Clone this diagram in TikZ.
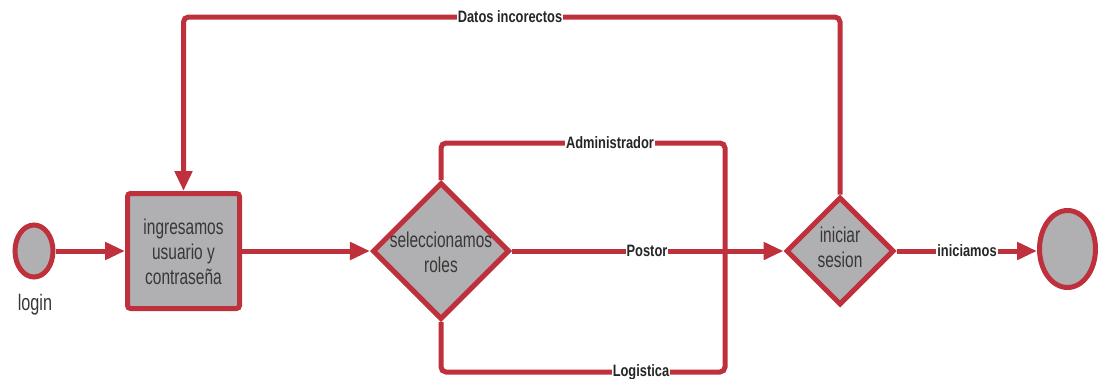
\documentclass[tikz,border=0pt]{standalone}
\usepackage{fontspec}
\setmainfont{Liberation Sans}[FakeStretch=0.72]
\newfontfamily\labfont{Liberation Sans}[FakeStretch=0.78]
\usetikzlibrary{shapes.geometric,arrows.meta}
\definecolor{lred}{RGB}{190,48,60}
\definecolor{lgray}{RGB}{176,176,178}
\definecolor{ltext}{RGB}{55,55,55}
\tikzset{
  x=1pt,y=1pt,
  shapebox/.style={draw=lred,fill=lgray,line width=5pt,inner sep=0pt},
  roundnode/.style={shapebox,ellipse},
  actbox/.style={shapebox,rectangle,rounded corners=3pt},
  decbox/.style={shapebox,diamond,shape aspect=1},
  maintext/.style={text=ltext,font=\fontsize{21.5}{25}\selectfont,align=center,inner sep=0pt},
  flow/.style={draw=lred,line width=5pt,rounded corners=5pt},
  arr/.style={flow,-{Triangle[length=20pt,width=17pt]}},
  lab/.style={fill=white,text=black!85,font=\labfont\fontsize{16.5}{18}\bfseries\selectfont,inner sep=1pt}
}
\begin{document}
\begin{tikzpicture}
\useasboundingbox (0,0) rectangle (1106,-378);
% nodes
\node[roundnode,minimum width=38pt,minimum height=52pt] (login) at (34,-251) {};
\node[maintext,font=\fontsize{22.5}{25}\selectfont] (loginlab) at (35,-305) {login};
\node[actbox,minimum width=112pt,minimum height=115pt] (box) at (183.5,-251) {};
\node[maintext] (boxtext) at (183.5,-252) {ingresamos\\usuario y\\contraseña};
\node[decbox,minimum width=137pt,minimum height=137pt] (roles) at (441,-251) {};
\node[maintext] (rolestext) at (441,-252) {seleccionamos\\roles};
\node[decbox,minimum width=108pt,minimum height=108pt] (ini) at (840,-251) {};
\node[maintext] (initext) at (840,-247) {iniciar\\sesion};
\node[roundnode,minimum width=56pt,minimum height=77pt] (fin) at (1067.5,-249) {};
\coordinate (j) at (725,-251);
% connectors
\draw[arr] (login) -- (box);
\draw[arr] (box) -- (roles);
\draw[flow] (roles.north) |- (725,-143) -- (j);
\draw[flow] (roles.south) |- (725,-372) -- (j);
\draw[flow] (roles.east) -- (j);
\draw[arr] (j) -- (ini.west);
\draw[arr] (ini.east) -- (fin.west |- ini.east);
\draw[arr] (ini.north) |- (183.5,-17) -- (box.north);
% labels
\node[lab] (ladmin) at (610,-143) {Administrador};
\node[lab] (lpostor) at (647,-251) {Postor};
\node[lab] (llog) at (641,-372) {Logistica};
\node[lab] (linic) at (967,-251) {iniciamos};
\node[lab] (ldatos) at (510,-17) {Datos incorectos};
\end{tikzpicture}
\end{document}
